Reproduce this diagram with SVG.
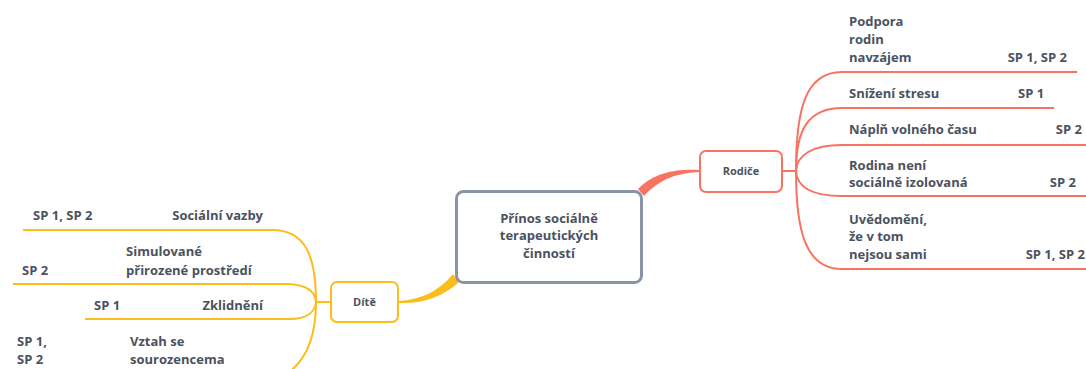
<svg xmlns="http://www.w3.org/2000/svg" width="1086" height="369" viewBox="0 0 1086 369">
  <style>
    .t { font-family: "Open Sans", "Liberation Sans", sans-serif; font-weight: 700; font-size: 13px; fill: #4b5260; }
    .small { font-size: 11px; }
    .red { fill: none; stroke: #f87462; stroke-width: 2; }
    .yel { fill: none; stroke: #fcbc1c; stroke-width: 2; }
  </style>
  <rect width="1086" height="369" fill="#ffffff"/>

  <g id="connectors">
    <!-- main trunks -->
    <path d="M638,189 C655,172 676,169 700,170 L700,172 C678,173 661,178 644,196 Z" fill="#f87462"/>
    <path d="M453,274 C440,290 422,300 398,301 L398,303 C424,304 444,296 459,282 Z" fill="#fcbc1c"/>
    <!-- Rodiče branches -->
    <path class="red" d="M782,171 L796,171"/>
    <path class="red" d="M796,171 C796,110 805,72 842,72 L1077,72"/>
    <path class="red" d="M796,171 C796,130 808,108 842,108 L1054,108"/>
    <path class="red" d="M796,171 C797,155 812,145 842,145 L1086,145"/>
    <path class="red" d="M796,171 C797,187 812,196 842,196 L1086,196"/>
    <path class="red" d="M796,171 C796,230 805,269 842,269 L1086,269"/>
    <!-- Dítě branches -->
    <path class="yel" d="M331,302 L316,302"/>
    <path class="yel" d="M316,302 C316,255 305,230 272,230 L23,230"/>
    <path class="yel" d="M316,302 C315,290 305,284 285,284 L13,284"/>
    <path class="yel" d="M316,302 C315,312 307,319 290,319 L85,319"/>
    <path class="yel" d="M316,302 C316,340 305,365 280,378"/>
  </g>

  <g id="center">
    <rect x="456.5" y="191.5" width="185" height="91" rx="7" fill="#ffffff" stroke="#8994a6" stroke-width="3"/>
    <text class="t" text-anchor="middle" x="549" y="223">Přínos sociálně</text>
    <text class="t" text-anchor="middle" x="549" y="240">terapeutických</text>
    <text class="t" text-anchor="middle" x="549" y="258">činností</text>
  </g>

  <g id="rodice">
    <rect x="700" y="151" width="82" height="41" rx="6" fill="#ffffff" stroke="#f87462" stroke-width="2"/>
    <text class="t small" text-anchor="middle" x="741" y="175">Rodiče</text>
  </g>

  <g id="dite">
    <rect x="331" y="282" width="67" height="40" rx="6" fill="#ffffff" stroke="#fcbc1c" stroke-width="2"/>
    <text class="t small" text-anchor="middle" x="364.5" y="306">Dítě</text>
  </g>

  <g id="podpora">
    <text class="t" x="849" y="26">Podpora</text>
    <text class="t" x="849" y="44">rodin</text>
    <text class="t" x="849" y="62">navzájem</text>
    <text class="t" x="1067" y="62" text-anchor="end">SP 1, SP 2</text>
  </g>
  <g id="snizeni">
    <text class="t" x="849" y="98">Snížení stresu</text>
    <text class="t" x="1018" y="98">SP 1</text>
  </g>
  <g id="napln">
    <text class="t" x="849" y="134">Náplň volného času</text>
    <text class="t" x="1082" y="134" text-anchor="end">SP 2</text>
  </g>
  <g id="rodina">
    <text class="t" x="849" y="170">Rodina není</text>
    <text class="t" x="849" y="187">sociálně izolovaná</text>
    <text class="t" x="1076" y="187" text-anchor="end">SP 2</text>
  </g>
  <g id="uvedomeni">
    <text class="t" x="849" y="224">Uvědomění,</text>
    <text class="t" x="849" y="241">že v tom</text>
    <text class="t" x="849" y="259">nejsou sami</text>
    <text class="t" x="1085" y="259" text-anchor="end">SP 1, SP 2</text>
  </g>

  <g id="vazby">
    <text class="t" x="33" y="220">SP 1, SP 2</text>
    <text class="t" x="263" y="220" text-anchor="end">Sociální vazby</text>
  </g>
  <g id="prostredi">
    <text class="t" x="126" y="256">Simulované</text>
    <text class="t" x="126" y="275">přirozené prostředí</text>
    <text class="t" x="22" y="275">SP 2</text>
  </g>
  <g id="zklidneni">
    <text class="t" x="94" y="310">SP 1</text>
    <text class="t" x="263" y="310" text-anchor="end">Zklidnění</text>
  </g>
  <g id="sourozenci">
    <text class="t" x="17" y="346">SP 1,</text>
    <text class="t" x="17" y="364">SP 2</text>
    <text class="t" x="130" y="346">Vztah se</text>
    <text class="t" x="130" y="364">sourozencema</text>
  </g>
</svg>
